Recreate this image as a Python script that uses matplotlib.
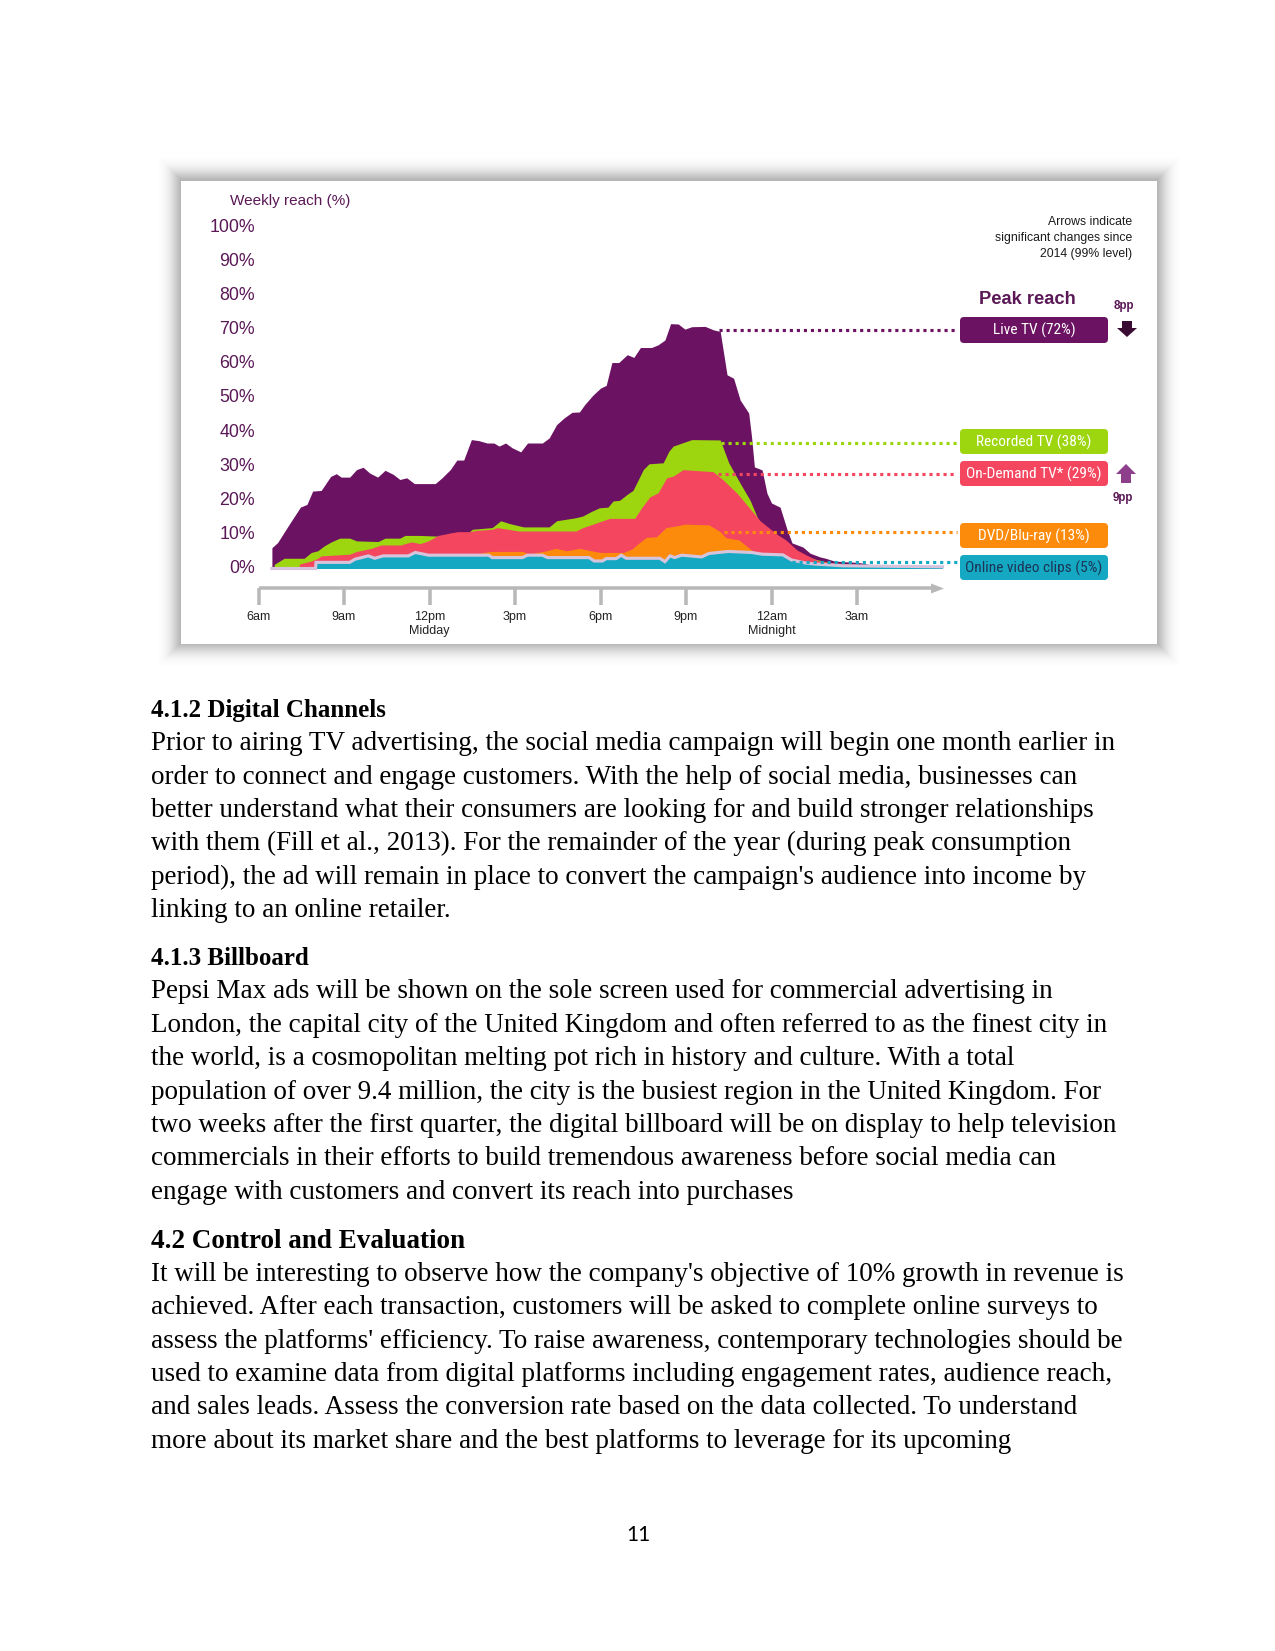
import math
import matplotlib
matplotlib.use("Agg")
import matplotlib.pyplot as plt
from matplotlib import font_manager
from matplotlib.patches import Rectangle, FancyBboxPatch, Polygon

# weekly reach by time of day (hours after 6am, % reach)
live_h = [0.47, 0.67, 1.08, 1.47, 1.7, 1.9, 2.2, 2.53, 2.73, 2.9, 3.2, 3.44, 3.67, 3.9, 4.18,
          4.44, 4.73, 4.96, 5.2, 5.47, 6.2, 6.44, 6.73, 6.96, 7.2, 7.47, 7.73, 8.02, 8.26,
          8.44, 8.67, 8.9, 9.2, 9.44, 9.96, 10.2, 10.46, 10.73, 11.0, 11.26, 11.44, 11.73,
          12.0, 12.2, 12.4, 12.64, 12.94, 13.17, 13.4, 13.79, 14.02, 14.26, 14.46, 14.73,
          14.96, 15.2, 15.67, 15.96, 16.2, 16.44, 16.67, 16.9, 17.2, 17.3, 17.4, 17.67,
          17.84, 18.0, 18.3, 18.55, 18.72, 19.1, 19.35, 19.7, 19.9, 20.2, 20.5, 20.8, 21.1,
          21.55, 24.0]
live_v = [6.1, 7.6, 13, 18, 18.8, 22.7, 22.9, 27, 27.8, 26.8, 26.8, 29, 29.7, 28, 26.8,
          28.8, 27.6, 26.1, 26.6, 24.9, 24.9, 26.6, 29, 31.8, 31.8, 37.8, 37.5, 36.8, 36.8,
          35.9, 36.8, 35.4, 34.2, 36.8, 36.8, 38.3, 42.2, 44.2, 45.8, 45.9, 48, 50.8,
          52.9, 53.7, 60.4, 60.4, 62.7, 61.9, 64.8, 64.8, 65.6, 67, 71.8, 71.7,
          70.2, 70.9, 71, 70, 69.5, 56.8, 55.8, 49.4, 45.6, 38.6, 29.8, 28.9,
          22.1, 19.2, 18, 11.3, 7.5, 6.3, 4.5, 3.4, 3.0, 2.2, 2, 1.9, 1.7,
          1, 0.8]

rec_h = [0.55, 0.9, 1.6, 1.85, 2.08, 2.3, 2.55, 2.85, 3.2, 3.44, 4.2, 4.44, 4.96, 5.14, 5.67,
         5.96, 6.3, 6.78, 7.0, 7.38, 7.5, 8.2, 8.5, 8.8, 9.0, 9.3, 10.2, 10.46, 11.14, 11.38,
         11.67, 11.96, 12.26, 12.44, 12.67, 12.96, 13.14, 13.3, 13.5, 13.7, 14.2, 14.4, 14.55,
         15.2, 16.2, 16.5, 16.9, 17.25, 17.5, 17.8, 18.2, 18.6, 19.0, 19.5, 20.0,
         21.0, 24.0]
rec_v = [1.2, 3, 3, 4.7, 5.2, 6.6, 7.8, 8.9, 8.9, 8.1, 7.9, 8.9, 8.9, 9.7, 9.7,
         9.6, 9.5, 10.2, 10.5, 10.6, 11.5, 12, 14, 13.2, 12.8, 12.2, 12.2, 14, 14.9, 15.4,
         16.7, 17.8, 18, 19.8, 20, 21.9, 22.9, 25.6, 29, 30.7, 31, 34.4, 35.9,
         37.8, 37.7, 31, 25, 20, 15, 11, 8, 6.5, 4.5, 2.8, 1.8,
         1.0, 0.7]

od_h = [1.43, 1.85, 2.08, 2.2, 3.2, 3.44, 3.67, 3.96, 4.3, 5.0, 5.14, 5.37, 5.67, 5.96, 6.3,
        6.78, 7.0, 7.38, 7.67, 8.2, 8.38, 9.14, 11.14, 11.38, 11.73, 12.32, 13.2, 13.44,
        13.73, 14.02, 14.32, 14.55, 14.9, 15.95, 16.3, 16.8, 17.3, 17.6, 18.2,
        18.5, 18.9, 19.35, 19.67, 20.02, 20.5, 21.5, 24.0]
od_v = [1.3, 2.2, 3, 3.7, 4.2, 5, 5.4, 5.9, 6.9, 6.9, 7.3, 7.8, 7.3, 8.1, 9.7,
        10.5, 10.8, 10.8, 11.2, 11.5, 12, 11, 11, 12, 13, 14.7, 14.7, 17.8,
        21, 22.2, 26.6, 27.1, 29, 28.4, 26, 22, 17, 14, 10,
        8.4, 5.4, 3.4, 2.2, 1.8, 1.5, 1.0, 0.8]

dvd_h = [7.6, 8.14, 9.26, 9.5, 10.1, 10.44, 10.8, 11.26, 11.67, 12.0, 12.8, 13.1, 13.3, 13.6,
         13.96, 14.3, 14.67, 14.96, 15.8, 16.2, 16.4, 16.85, 17.3, 17.6, 18.5, 19.5,
         20.5, 22.0, 24.0]
dvd_v = [4.2, 5, 5, 4.2, 5.2, 5.9, 5.2, 5.9, 5.2, 4.7, 4.7, 5.7, 7.1, 9.1,
         9.3, 12, 12.5, 13, 12.8, 10.8, 9.0, 8.4, 5.4, 4.0, 2.5, 1.5,
         1.1, 0.8, 0.6]

clip_h = [0.47, 2.0, 2.02, 3.2, 3.38, 3.85, 4.08, 4.38, 5.26, 5.5, 5.8, 5.96, 8.08, 8.2, 9.26,
          9.44, 9.96, 10.14, 11.6, 11.78, 12.07, 12.2, 12.55, 12.73, 12.9, 14.08, 14.26,
          14.44, 14.6, 14.85, 15.55, 15.8, 16.14, 16.5, 17.3, 17.67, 18.4, 18.7, 19.2,
          19.55, 20.5, 24.0]
clip_v = [0, 0, 1.8, 1.8, 2.7, 3.7, 3.0, 3.7, 3.7, 4.7, 4.2, 3.9, 3.9, 3.2, 3.2,
          3.9, 3.9, 3.2, 3.2, 2.2, 2.2, 2.9, 2.9, 3.9, 3.0, 3.0, 2.0,
          3.7, 3.2, 3.9, 3.4, 4.4, 4.7, 5.0, 4.7, 4.2, 4.0, 2.5, 1.6,
          1.3, 0.8, 0.5]

tick_hours = [0, 3, 6, 9, 12, 15, 18, 21]
tick_labels = ["6am", "9am", "12pm\nMidday", "3pm", "6pm", "9pm", "12am\nMidnight", "3am"]
y_ticks = [0, 10, 20, 30, 40, 50, 60, 70, 80, 90, 100]

peak_labels = ["Live TV (72%)", "Recorded TV (38%)", "On-Demand TV* (29%)",
               "DVD/Blu-ray (13%)", "Online video clips (5%)"]

PURPLE = "#6b1262"
GREEN = "#9dd60f"
RED = "#f4475f"
ORANGE = "#fd8b0b"
TEAL = "#15a8c2"
LAVENDER = "#d6c4dc"
TXT_PURPLE = "#5a1856"

# the labels in the boxes are set in a narrow face; use one if there is one
box_font = {"family": "Liberation Sans", "fontsize": 6.4}
for f in font_manager.fontManager.ttflist:
    if f.name in ("Liberation Sans Narrow", "Roboto Condensed", "Open Sans Condensed"):
        box_font = {"family": f.name, "fontsize": 7.4}
        break
    if f.name in ("DejaVu Sans", "Noto Sans") and str(f.stretch) == "condensed" \
            and f.style == "normal" and str(f.weight) in ("400", "normal", "regular", "book"):
        box_font = {"family": f.name, "fontstretch": "condensed", "fontsize": 7.0}

W, H = 1275, 1651
fig = plt.figure(figsize=(W / 150, H / 150), dpi=150)
fig.patch.set_facecolor("white")

# page layer, pixel coords
page = fig.add_axes([0, 0, 1, 1], zorder=0)
page.set_xlim(0, W)
page.set_ylim(H, 0)
page.axis("off")

# soft drop shadow round the chart picture
bx0, bx1, by0, by1 = 181, 1157, 181, 644
for k in range(32, 0, -1):
    a = 0.024 * math.exp(-(k / 15.0) ** 2)
    page.add_patch(Rectangle((bx0 - k, by0 - k - 1), bx1 - bx0 + 2 * k, by1 - by0 + 2 * k,
                             facecolor="black", edgecolor="none", alpha=a))
page.add_patch(Rectangle((bx0, by0), bx1 - bx0, by1 - by0, facecolor="white", edgecolor="none"))

# chart layer: hours / percent, mapped onto the box
px_per_h, h0_px = 28.5, 258.5
px_per_pct, base_px = 3.41, 568.5
ax = fig.add_axes([bx0 / W, 1 - by1 / H, (bx1 - bx0) / W, (by1 - by0) / H], zorder=1)
ax.set_xlim((bx0 - h0_px) / px_per_h, (bx1 - h0_px) / px_per_h)
ax.set_ylim((base_px - by1) / px_per_pct, (base_px - by0) / px_per_pct)
ax.axis("off")
ax.patch.set_alpha(0)

ax.fill_between(live_h, 0, live_v, color=PURPLE, lw=0)
ax.fill_between(rec_h, 0, rec_v, color=GREEN, lw=0)
ax.fill_between(od_h, 0, od_v, color=RED, lw=0)
ax.fill_between(dvd_h, 0, dvd_v, color=ORANGE, lw=0)
ax.fill_between(clip_h, 0, clip_v, color=TEAL, lw=0)
ax.plot(clip_h, clip_v, color=LAVENDER, lw=1.5, solid_joinstyle="miter")

# y labels
for v in y_ticks:
    ax.text((254.8 - h0_px) / px_per_h, v, f"{v}%", ha="right", va="center",
            fontsize=8.5, color=TXT_PURPLE, family="Liberation Sans")
ax.text((229.5 - h0_px) / px_per_h, (base_px - 201) / px_per_pct, "Weekly reach (%)",
        ha="left", va="center", fontsize=7.3, color=TXT_PURPLE, family="Liberation Sans")

# time axis
axis_v = (base_px - 588.5) / px_per_pct
tick_v = (base_px - 605) / px_per_pct
ax.plot([tick_hours[0], (934 - h0_px) / px_per_h], [axis_v, axis_v], color="#b8b8b8",
        lw=1.7, solid_capstyle="butt")
ax.vlines(tick_hours, tick_v, axis_v, color="#b8b8b8", lw=1.7)
for hh, lab in zip(tick_hours, tick_labels):
    ax.text(hh, (base_px - 611) / px_per_pct, lab, ha="center", va="top", fontsize=6,
            color="#222222", family="Liberation Sans", linespacing=1.25)

# overlay layer, pixel coords
over = fig.add_axes([0, 0, 1, 1], zorder=2)
over.set_xlim(0, W)
over.set_ylim(H, 0)
over.axis("off")
over.patch.set_alpha(0)

over.add_patch(Polygon([(931, 583.5), (944, 588.5), (931, 593.5)], closed=True,
                       facecolor="#b8b8b8", edgecolor="none"))

box_colors = [PURPLE, GREEN, RED, ORANGE, TEAL]
box_text = ["white", "white", "white", "white", "#1c3455"]
box_y = [(317, 343), (429, 454), (461, 486), (523, 548), (555, 580)]
line_y = [330, 443, 474, 532, 562]
line_x0 = [719, 721, 718, 724, 792]
for lab, col, tc, (y0, y1), ly, lx in zip(peak_labels, box_colors, box_text, box_y, line_y, line_x0):
    over.plot([lx, 957], [ly, ly], color=col, lw=1.5, linestyle=(0, (1, 1.25)),
              solid_capstyle="butt")
    over.add_patch(FancyBboxPatch((960, y0), 148, y1 - y0,
                                  boxstyle="round,pad=0,rounding_size=4",
                                  facecolor=col, edgecolor="none"))
    over.text(1034, (y0 + y1) / 2 + 0.5, lab, ha="center", va="center", color=tc, **box_font)

over.text(1027, 300, "Peak reach", ha="center", va="center", fontsize=8.8,
          fontweight="bold", color=TXT_PURPLE, family="Liberation Sans")
over.text(1124, 306, "8pp", ha="center", va="center", fontsize=5.6, fontweight="bold",
          color=TXT_PURPLE, family="Liberation Sans")
over.text(1123, 498, "9pp", ha="center", va="center", fontsize=5.6, fontweight="bold",
          color=TXT_PURPLE, family="Liberation Sans")
over.add_patch(Polygon([(1122, 321), (1132, 321), (1132, 328), (1137, 328), (1127, 337),
                        (1117, 328), (1122, 328)], closed=True, facecolor="#3a0c33",
                       edgecolor="none"))
over.add_patch(Polygon([(1121, 483), (1131, 483), (1131, 474), (1136, 474), (1126, 464),
                        (1116, 474), (1121, 474)], closed=True, facecolor="#8d3f8c",
                       edgecolor="none"))
for yy, t in zip([222, 238, 254], ["Arrows indicate", "significant changes since",
                                   "2014 (99% level)"]):
    over.text(1132, yy, t, ha="right", va="center", fontsize=5.9, color="#1a1a1a",
              family="Liberation Sans")

# document text
body = {"family": "Liberation Serif", "fontsize": 13, "color": "black"}
left = 150.7
sections = [
    ("4.1.2 Digital Channels", 12, 716.7, [
        "Prior to airing TV advertising, the social media campaign will begin one month earlier in",
        "order to connect and engage customers. With the help of social media, businesses can",
        "better understand what their consumers are looking for and build stronger relationships",
        "with them (Fill et al., 2013). For the remainder of the year (during peak consumption",
        "period), the ad will remain in place to convert the campaign's audience into income by",
        "linking to an online retailer.",
    ]),
    ("4.1.3 Billboard", 12, 965.0, [
        "Pepsi Max ads will be shown on the sole screen used for commercial advertising in",
        "London, the capital city of the United Kingdom and often referred to as the finest city in",
        "the world, is a cosmopolitan melting pot rich in history and culture. With a total",
        "population of over 9.4 million, the city is the busiest region in the United Kingdom. For",
        "two weeks after the first quarter, the digital billboard will be on display to help television",
        "commercials in their efforts to build tremendous awareness before social media can",
        "engage with customers and convert its reach into purchases",
    ]),
    ("4.2 Control and Evaluation", 13, 1247.5, [
        "It will be interesting to observe how the company's objective of 10% growth in revenue is",
        "achieved. After each transaction, customers will be asked to complete online surveys to",
        "assess the platforms' efficiency. To raise awareness, contemporary technologies should be",
        "used to examine data from digital platforms including engagement rates, audience reach,",
        "and sales leads. Assess the conversion rate based on the data collected. To understand",
        "more about its market share and the best platforms to leverage for its upcoming",
    ]),
]
for head, hsize, y, lines in sections:
    page.text(left, y, head, ha="left", va="baseline", fontweight="bold",
              family="Liberation Serif", fontsize=hsize, color="black")
    for i, ln in enumerate(lines):
        page.text(left, y + 33.4 * (i + 1), ln, ha="left", va="baseline", **body)

page.text(638, 1541, "11", ha="center", va="baseline", fontsize=10, family="Lato",
          color="black")

fig.savefig("out.png", dpi=150, facecolor="white")
